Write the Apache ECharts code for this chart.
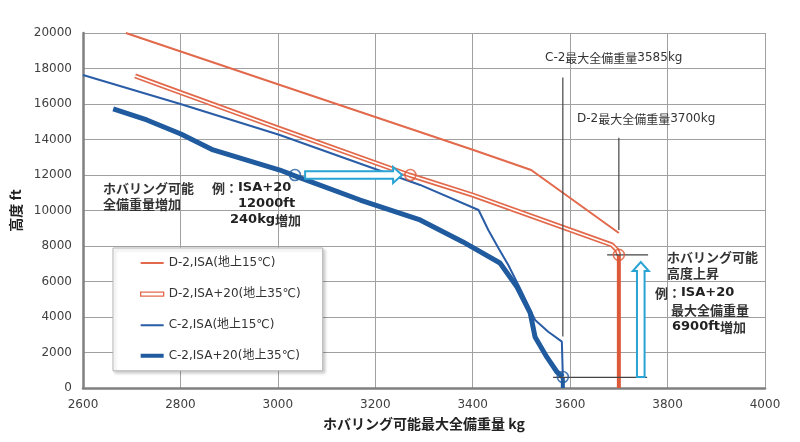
<!DOCTYPE html>
<html><head><meta charset="utf-8">
<script src="https://cdn.jsdelivr.net/npm/echarts@6/dist/echarts.min.js"></script>
<style>html,body{margin:0;padding:0;background:#fff}#c{width:800px;height:442px}</style>
</head><body><div id="c"></div>
<script>
// ---- data ----
const xTicks = [2600, 4000, 200];
const yTicks = [0, 20000, 2000];
const seriesNames = ['D-2,ISA(地上15℃)', 'D-2,ISA+20(地上35℃)', 'C-2,ISA(地上15℃)', 'C-2,ISA+20(地上35℃)'];
const d2Isa = [[2688,20000],[3000,17110],[3200,15270],[3400,13420],[3520,12280],[3700,8730]];
const d2Isa20 = [[2707,17580],[2770,16950],[3000,14650],[3270,12000],[3400,10870],[3686,8060],[3696,7780],[3700,7500]];
const d2Isa20Drop = [[3700,7500],[3700,0]];
const c2Isa = [[2600,17630],[2800,16000],[3004,14250],[3292,11440],[3412,10030],[3432,8900],[3453,7870],[3473,6930],[3497,5620],[3528,3830],[3555,3170],[3583,2610],[3585,2520],[3585,640]];
const c2Isa20 = [[2662,15720],[2731,15100],[2801,14310],[2867,13410],[3004,12280],[3035,11950],[3169,10590],[3292,9470],[3380,8230],[3456,7040],[3491,5690],[3518,4230],[3528,2870],[3552,1750],[3573,900],[3585,620]];
const c2Isa20Drop = [[3585,620],[3585,0]];
const blueCircles = [[3035,12000],[3585,620]];
const orangeCircles = [[3272,12000],[3700,7500]];
const refLines = [[3585,17500,3585,2900],[3700,14100,3700,8900],[3676,7500,3760,7500],[3565,600,3758,600]];
const arrows = [[3056,12000,3255,12000],[3745,620,3745,7100]];

const ORANGE = '#E2694B', RED = '#DC5A3A', BLUE = '#2A5DA6', BLUE2 = '#1F5B9E', CYAN = '#2AA3D5';
const LAT = '"DejaVu Sans", "Noto Sans CJK JP", sans-serif';
const JP = '"Noto Sans CJK JP", "DejaVu Sans", sans-serif';

function bbox(inner){ return 'path://M0,0L0.01,0M23,14L23,13.99' + inner; }

const chart = echarts.init(document.getElementById('c'), null, {renderer:'canvas'});

function arrowPts(p1,p2,hw,hh,hl){
  const dx=p2[0]-p1[0], dy=p2[1]-p1[1], L=Math.hypot(dx,dy);
  const ux=dx/L, uy=dy/L, nx=-uy, ny=ux;
  const bx=p2[0]-ux*hl, by=p2[1]-uy*hl;
  return [[p1[0]+nx*hw,p1[1]+ny*hw],[bx+nx*hw,by+ny*hw],[bx+nx*hh,by+ny*hh],[p2[0],p2[1]],
          [bx-nx*hh,by-ny*hh],[bx-nx*hw,by-ny*hw],[p1[0]-nx*hw,p1[1]-ny*hw]];
}

const RICH = {
  j:{fontFamily:JP, fontSize:13, fontWeight:'bold', fill:'#333', color:'#333'},
  l:{fontFamily:LAT, fontSize:13, fontWeight:'bold', fill:'#222', color:'#222'},
  n:{fontFamily:LAT, fontSize:12, fontWeight:'normal', fill:'#333', color:'#333'},
  m:{fontFamily:JP, fontSize:12, fontWeight:'normal', fill:'#333', color:'#333'}
};
function txt(x,y,text){
  return {type:'text', x:x, y:y, z:100, style:{text:text, rich:RICH, verticalAlign:'middle', align:'left', fill:'#333'}};
}

const option = {
  animation:false,
  backgroundColor:'#fff',
  grid:{left:83, right:35, top:33, bottom:54},
  xAxis:{type:'value', min:xTicks[0], max:xTicks[1], interval:xTicks[2],
    name:'ホバリング可能最大全備重量 kg', nameLocation:'middle', nameGap:29,
    nameTextStyle:{fontFamily:JP, fontSize:14, fontWeight:'bold', color:'#222'},
    axisLine:{show:true, onZero:false, lineStyle:{color:'#808080', width:2.5}},
    axisTick:{show:false},
    axisLabel:{fontFamily:LAT, fontSize:12, color:'#404040', margin:11, formatter:function(v){return String(v);}},
    splitLine:{show:true, lineStyle:{color:'#a0a0a0', width:1}}},
  yAxis:{type:'value', min:yTicks[0], max:yTicks[1], interval:yTicks[2],
    name:'高度 ft', nameLocation:'middle', nameGap:49,
    nameTextStyle:{fontFamily:JP, fontSize:14, fontWeight:'bold', color:'#222'},
    axisLine:{show:true, onZero:false, lineStyle:{color:'#808080', width:2.5}},
    axisTick:{show:false},
    axisLabel:{fontFamily:LAT, fontSize:12, color:'#404040', margin:11, formatter:function(v){return String(v);}},
    splitLine:{show:true, lineStyle:{color:'#a0a0a0', width:1}}},
  legend:{
    orient:'vertical', left:113, top:248, padding:[8,22,8,27], itemGap:16.5,
    itemWidth:23, itemHeight:14, backgroundColor:'#fff', borderColor:'#b5b5b5', borderWidth:1,
    shadowColor:'rgba(0,0,0,0.18)', shadowBlur:3, shadowOffsetX:2, shadowOffsetY:2,
    textStyle:{fontFamily:LAT, fontSize:12, color:'#333'},
    itemStyle:{borderWidth:0},
    data:[
      {name:seriesNames[0], icon:bbox('M0,6L23,6L23,8L0,8Z'), itemStyle:{color:ORANGE, borderWidth:0}},
      {name:seriesNames[1], icon:bbox('M0,5L23,5L23,9L0,9Z'), itemStyle:{color:'#fff', borderColor:ORANGE, borderWidth:1.3}},
      {name:seriesNames[2], icon:bbox('M0,6L23,6L23,8L0,8Z'), itemStyle:{color:BLUE, borderWidth:0}},
      {name:seriesNames[3], icon:bbox('M0,5L23,5L23,9L0,9Z'), itemStyle:{color:BLUE2, borderWidth:0}}
    ]},
  series:[
    {name:seriesNames[0], type:'line', data:d2Isa, symbol:'none', color:ORANGE, lineStyle:{color:ORANGE, width:2}, z:3},
    {name:seriesNames[1], type:'line', data:d2Isa20, symbol:'none', color:ORANGE, lineStyle:{color:ORANGE, width:5}, z:3},
    {name:'d2inner', type:'line', data:d2Isa20, symbol:'none', lineStyle:{color:'#fff', width:1.6}, z:4},
    {name:'d2drop', type:'line', data:d2Isa20Drop, symbol:'none', lineStyle:{color:RED, width:4}, z:3},
    {name:seriesNames[2], type:'line', data:c2Isa, symbol:'none', color:BLUE, lineStyle:{color:BLUE, width:2}, z:5},
    {name:seriesNames[3], type:'line', data:c2Isa20, symbol:'none', color:BLUE2, lineStyle:{color:BLUE2, width:5}, z:5},
    {name:'c2drop', type:'line', data:c2Isa20Drop, symbol:'none', lineStyle:{color:BLUE2, width:4}, z:5},
    {name:'refl', type:'custom', data:refLines, encode:{x:[0,2], y:[1,3]}, z:6, silent:true,
      renderItem:function(params, api){
        const p1 = api.coord([api.value(0), api.value(1)]);
        const p2 = api.coord([api.value(2), api.value(3)]);
        return {type:'line', shape:{x1:p1[0], y1:p1[1], x2:p2[0], y2:p2[1]}, style:{stroke:'#444', lineWidth:1.2}};
      }},
    {name:'bc', type:'scatter', data:blueCircles, symbol:'circle', symbolSize:11, z:7,
      itemStyle:{color:'rgba(255,255,255,0)', borderColor:BLUE2, borderWidth:1.6}},
    {name:'oc', type:'scatter', data:orangeCircles, symbol:'circle', symbolSize:11, z:7,
      itemStyle:{color:'rgba(255,255,255,0)', borderColor:RED, borderWidth:1.6}},
    {name:'arr', type:'custom', data:arrows, encode:{x:[0,2], y:[1,3]}, z:8, silent:true,
      renderItem:function(params, api){
        const p1 = api.coord([api.value(0), api.value(1)]);
        const p2 = api.coord([api.value(2), api.value(3)]);
        return {type:'polygon', shape:{points:arrowPts(p1,p2,3.8,8,9)}, style:{fill:'#fff', stroke:CYAN, lineWidth:2}};
      }}
  ],
  graphic:[
    txt(545,58,'{n|C-2}{m|最大全備重量}{n|3585kg}'),
    txt(577,119,'{n|D-2}{m|最大全備重量}{n|3700kg}'),
    txt(103,188,'{j|ホバリング可能}'),
    txt(103,204,'{j|全備重量増加}'),
    txt(212,188,'{j|例：}{l|ISA+20}'),
    txt(238,204,'{l|12000ft}'),
    txt(230,220,'{l|240kg}{j|増加}'),
    txt(667,257,'{j|ホバリング可能}'),
    txt(667,273,'{j|高度上昇}'),
    txt(655,293,'{j|例：}{l|ISA+20}'),
    txt(671,310,'{j|最大全備重量}'),
    txt(672,327,'{l|6900ft}{j|増加}')
  ]
};
chart.setOption(option);
</script></body></html>
